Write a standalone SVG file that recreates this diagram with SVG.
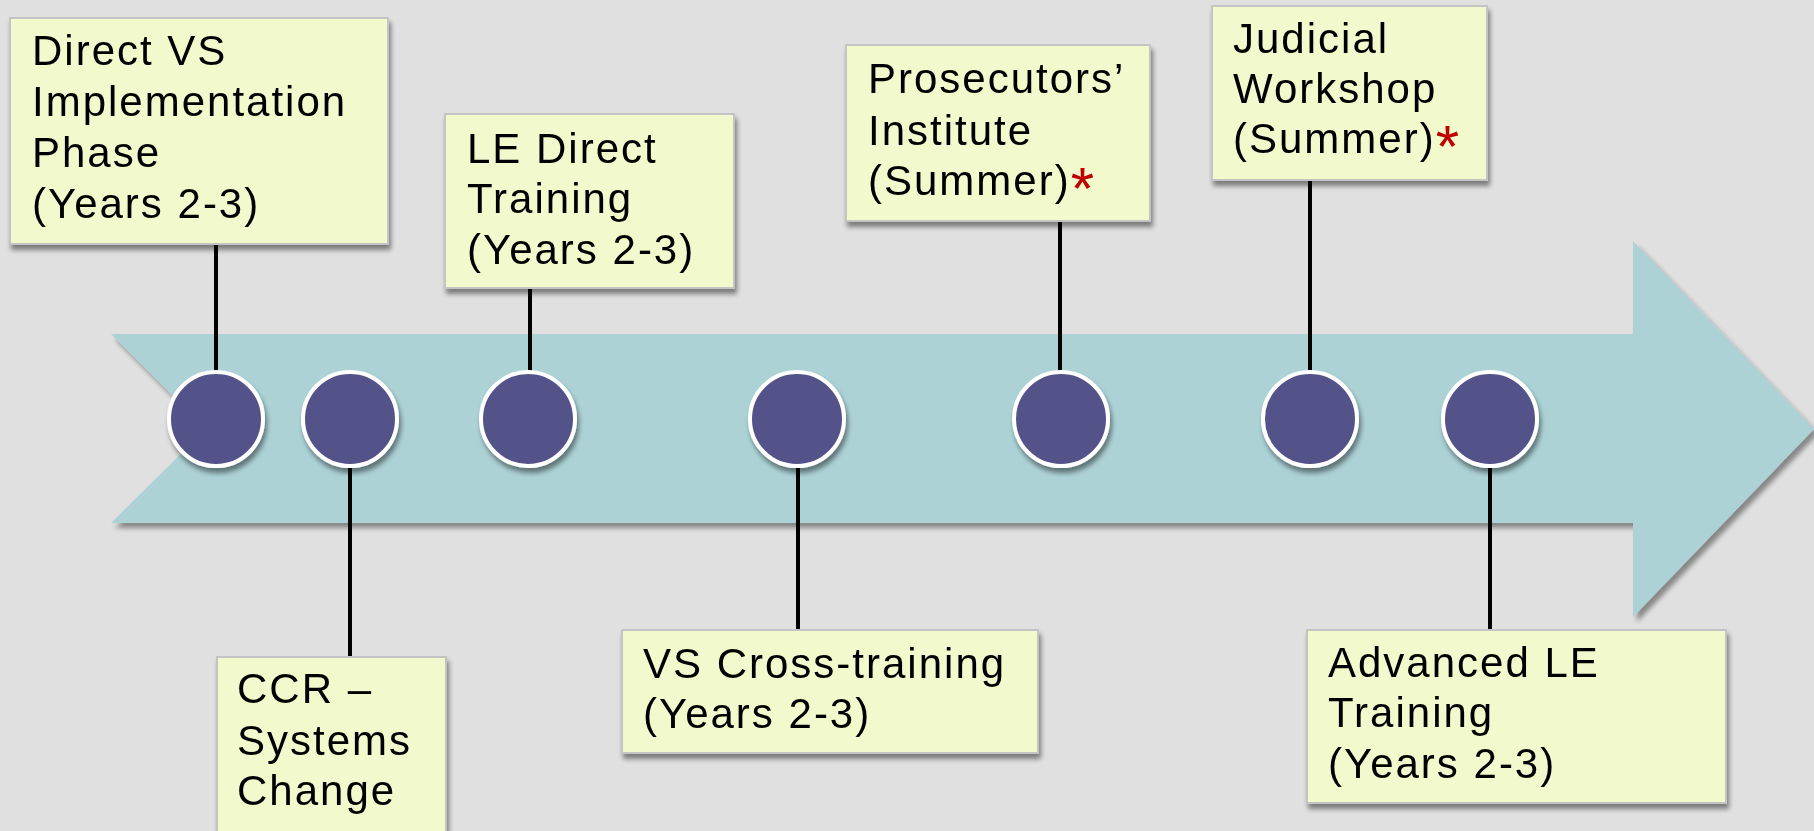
<svg xmlns="http://www.w3.org/2000/svg" width="1814" height="831" viewBox="0 0 1814 831">
<defs>
<filter id="sh" x="-10%" y="-10%" width="130%" height="130%">
<feGaussianBlur in="SourceAlpha" stdDeviation="2.5"/>
<feOffset dx="2" dy="5" result="b"/>
<feComponentTransfer><feFuncA type="linear" slope="0.45"/></feComponentTransfer>
<feMerge><feMergeNode/><feMergeNode in="SourceGraphic"/></feMerge>
</filter>
<filter id="ash" x="-5%" y="-10%" width="115%" height="130%">
<feGaussianBlur in="SourceAlpha" stdDeviation="2.5"/>
<feOffset dx="4" dy="5" result="b"/>
<feComponentTransfer><feFuncA type="linear" slope="0.4"/></feComponentTransfer>
<feMerge><feMergeNode/><feMergeNode in="SourceGraphic"/></feMerge>
</filter>
<style>
.box{fill:#f2f9cc;stroke:#c4c4c4;stroke-width:2}
.t{font-family:"Liberation Sans",Arial,sans-serif;font-size:42px;letter-spacing:2px;fill:#000}
.ast{fill:#c00000;font-size:60px;letter-spacing:0}
.dot{fill:#53538a;stroke:#fff;stroke-width:4}
.con{stroke:#000;stroke-width:4}
</style>
</defs>
<rect width="1814" height="831" fill="#e0e0e0"/>
<g id="arrow" filter="url(#ash)">
<polygon points="111,334 1633,334 1633,241 1814,429 1633,617 1633,523 111,523 206,429" fill="#acd2d6"/>
</g>
<g id="connectors">
<line class="con" x1="216" y1="244" x2="216" y2="400"/>
<line class="con" x1="350" y1="440" x2="350" y2="657"/>
<line class="con" x1="530" y1="288" x2="530" y2="400"/>
<line class="con" x1="798" y1="440" x2="798" y2="630"/>
<line class="con" x1="1060" y1="221" x2="1060" y2="400"/>
<line class="con" x1="1310" y1="180" x2="1310" y2="400"/>
<line class="con" x1="1490" y1="440" x2="1490" y2="630"/>
</g>
<g id="dots" filter="url(#sh)">
<circle class="dot" cx="216" cy="419" r="47"/>
<circle class="dot" cx="350" cy="419" r="47"/>
<circle class="dot" cx="528" cy="419" r="47"/>
<circle class="dot" cx="797" cy="419" r="47"/>
<circle class="dot" cx="1061" cy="419" r="47"/>
<circle class="dot" cx="1310" cy="419" r="47"/>
<circle class="dot" cx="1490" cy="419" r="47"/>
</g>
<g id="n1" filter="url(#sh)">
<rect class="box" x="10" y="18" width="378" height="226"/>
<text class="t" x="32" y="65">Direct VS</text>
<text class="t" x="32" y="116">Implementation</text>
<text class="t" x="32" y="167">Phase</text>
<text class="t" x="32" y="218">(Years 2-3)</text>
</g>
<g id="n2" filter="url(#sh)">
<rect class="box" x="445" y="114" width="289" height="174"/>
<text class="t" x="467" y="163">LE Direct</text>
<text class="t" x="467" y="213">Training</text>
<text class="t" x="467" y="264">(Years 2-3)</text>
</g>
<g id="n3" filter="url(#sh)">
<rect class="box" x="846" y="45" width="304" height="176"/>
<text class="t" x="868" y="93">Prosecutors’</text>
<text class="t" x="868" y="145">Institute</text>
<text class="t" x="868" y="195">(Summer)<tspan class="ast" dy="14">*</tspan></text>
</g>
<g id="n4" filter="url(#sh)">
<rect class="box" x="1212" y="6" width="275" height="174"/>
<text class="t" x="1233" y="53">Judicial</text>
<text class="t" x="1233" y="103">Workshop</text>
<text class="t" x="1233" y="153">(Summer)<tspan class="ast" dy="14">*</tspan></text>
</g>
<g id="n5" filter="url(#sh)">
<rect class="box" x="217" y="657" width="229" height="180"/>
<text class="t" x="237" y="703">CCR –</text>
<text class="t" x="237" y="755">Systems</text>
<text class="t" x="237" y="805">Change</text>
</g>
<g id="n6" filter="url(#sh)">
<rect class="box" x="622" y="630" width="416" height="123"/>
<text class="t" x="643" y="678">VS Cross-training</text>
<text class="t" x="643" y="728">(Years 2-3)</text>
</g>
<g id="n7" filter="url(#sh)">
<rect class="box" x="1307" y="630" width="419" height="173"/>
<text class="t" x="1328" y="677">Advanced LE</text>
<text class="t" x="1328" y="727">Training</text>
<text class="t" x="1328" y="778">(Years 2-3)</text>
</g>
</svg>
